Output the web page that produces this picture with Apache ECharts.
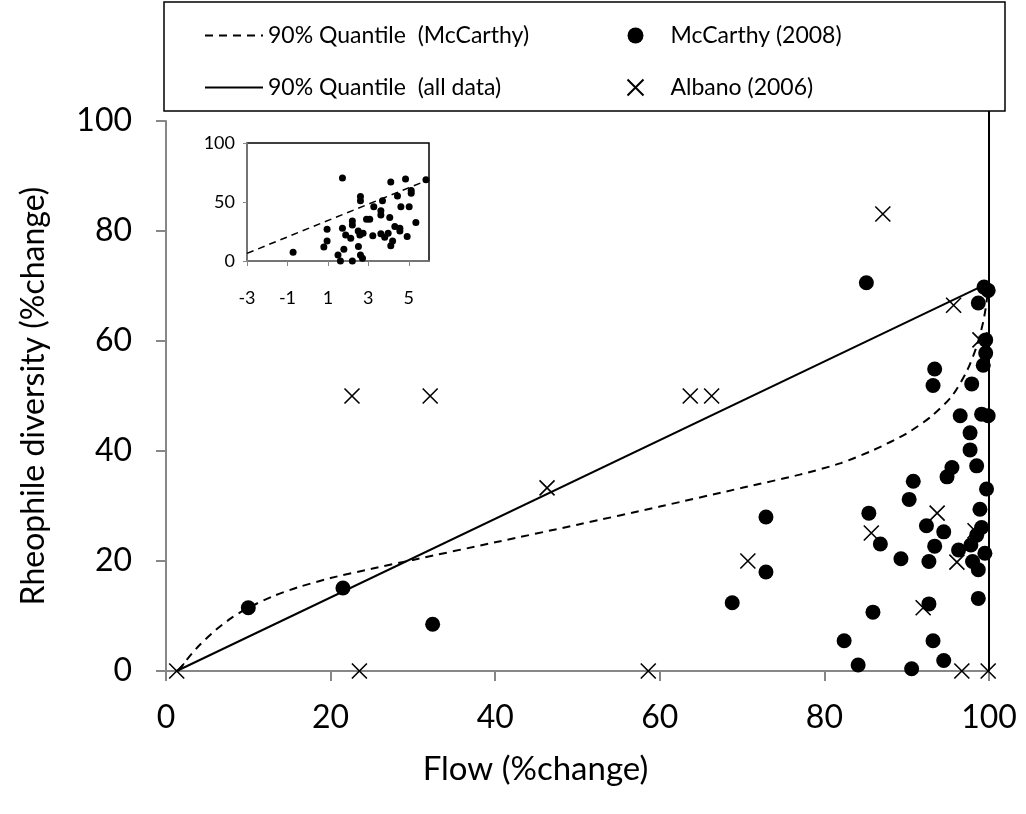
<!DOCTYPE html>
<html>
<head>
<meta charset="utf-8">
<script src="https://cdn.jsdelivr.net/npm/echarts@6/dist/echarts.min.js"></script>
<style>
  html, body { margin: 0; padding: 0; background: #fff; }
  #chart { width: 1026px; height: 814px; }
</style>
</head>
<body>
<div id="chart"></div>
<script>
// ---- Data ----
const xTicks = [0, 20, 40, 60, 80, 100];
const yTicks = [0, 20, 40, 60, 80, 100];

const mccarthyPoints = [
  [10.0, 11.5], [21.5, 15.1], [32.4, 8.5], [68.8, 12.4], [72.9, 28.0], [72.9, 18.0],
  [85.1, 70.6], [99.4, 69.8], [99.9, 69.2], [98.7, 66.9], [99.6, 60.2], [99.6, 57.8],
  [99.3, 55.6], [93.4, 54.9], [93.2, 51.9], [97.9, 52.2], [96.5, 46.4], [99.1, 46.7],
  [99.9, 46.4], [97.7, 43.3], [97.7, 40.2], [95.5, 37.0], [98.5, 37.3], [94.9, 35.3],
  [90.8, 34.5], [90.3, 31.2], [99.7, 33.1], [85.4, 28.7], [98.9, 29.4], [92.4, 26.4],
  [94.5, 25.3], [99.1, 26.1], [98.5, 24.7], [97.8, 22.9], [93.4, 22.7], [96.3, 22.0],
  [86.8, 23.1], [89.3, 20.4], [92.7, 19.9], [98.0, 19.9], [99.5, 21.4], [98.7, 18.4],
  [98.7, 13.2], [85.9, 10.7], [92.7, 12.2], [82.4, 5.5], [93.2, 5.5], [84.1, 1.1],
  [90.6, 0.4], [94.5, 1.9]
];

const albanoPoints = [
  [1.3, 0], [23.5, 0], [58.6, 0], [96.7, 0], [99.9, 0], [22.6, 50], [32.1, 50],
  [46.3, 33.3], [63.7, 50], [66.3, 50], [70.7, 20], [87.1, 83.1], [95.7, 66.5],
  [98.9, 60.2], [93.7, 28.7], [85.7, 25.1], [96.1, 19.8], [92.0, 11.5], [98.3, 25.5]
];

const quantileAll = [[1.3, 0], [98.9, 69.8]];

const quantileMcCarthy = [
  [1.5, 0], [2.5, 2.0], [4, 4.6], [6, 7.4], [8, 9.7], [10, 11.5], [13, 13.6],
  [16, 15.2], [20, 16.9], [25, 18.6], [30, 20.2], [40, 23.4], [50, 26.6],
  [60, 29.9], [70, 33.3], [77, 35.7], [82, 37.8], [86, 40.2], [90, 43.2],
  [93, 46.3], [95.5, 50.0], [97.3, 54.5], [98.5, 59.0], [99.3, 63.5], [99.7, 67.0], [99.9, 70.0]
];

const rightEdge = [[100, 0], [100, 101.8]];

// inset (log scale values)
const insetXTicks = [-3, -1, 1, 3, 5];
const insetYTicks = [0, 50, 100];
const insetPoints = [
  [1.72, 70.3], [4.11, 66.9], [4.84, 69.4], [5.85, 68.8], [2.61, 54.7], [2.61, 51.0],
  [3.70, 51.0], [4.44, 55.0], [5.12, 59.8], [5.12, 57.5], [3.27, 46.0], [4.61, 46.0],
  [5.02, 46.0], [3.62, 42.5], [3.62, 39.0], [4.06, 36.8], [2.91, 35.4], [3.07, 35.4],
  [2.21, 34.0], [2.21, 30.6], [0.96, 27.0], [1.72, 27.8], [5.35, 32.6], [4.31, 29.2],
  [4.56, 27.8], [2.50, 25.5], [2.74, 23.5], [1.88, 22.1], [3.22, 21.5], [3.62, 23.0],
  [3.98, 23.5], [2.58, 22.0], [4.56, 25.5], [2.13, 19.3], [3.81, 20.1], [4.92, 20.7],
  [4.20, 17.0], [0.96, 17.0], [0.80, 11.9], [1.79, 9.9], [2.51, 12.2], [4.11, 13.0],
  [-0.72, 7.4], [1.50, 5.1], [2.61, 5.0], [2.71, 2.3], [1.62, 0], [2.21, 0]
];
const insetQuantile = [[-3, 6.5], [6, 69]];

// ---- Chart ----
const FONT = 'Lato, "Open Sans", sans-serif';
const axisGray = '#878787';
const chart = echarts.init(document.getElementById('chart'), null, { renderer: 'canvas' });

const crossPath = 'path://M0,0L10,10M10,0L0,10';

chart.setOption({
  animation: false,
  backgroundColor: '#ffffff',
  textStyle: { fontFamily: FONT, color: '#000' },
  graphic: [{
    type: 'rect',
    shape: { x: 164, y: 2, width: 841, height: 109 },
    style: { fill: 'none', stroke: '#000', lineWidth: 1.5 },
    z: 0
  }],
  legend: [{
    left: 199, top: 19, orient: 'vertical', itemGap: 29,
    itemWidth: 58, itemHeight: 14,
    itemStyle: { color: 'transparent', borderColor: 'transparent', borderWidth: 0 },
    textStyle: { fontFamily: FONT, fontSize: 23, color: '#000' },
    data: ['90% Quantile  (McCarthy)', '90% Quantile  (all data)']
  }, {
    left: 620, top: 19, orient: 'vertical', itemGap: 29,
    itemWidth: 60, itemHeight: 16,
    textStyle: { fontFamily: FONT, fontSize: 23, color: '#000' },
    data: ['McCarthy (2008)', 'Albano (2006)']
  }],
  grid: [{
    left: 166, right: 37, top: 121, bottom: 143
  }, {
    left: 247, top: 143, width: 182, height: 118,
    show: true, borderColor: '#000', borderWidth: 1.5, backgroundColor: '#fff', z: 5
  }],
  xAxis: [{
    gridIndex: 0, type: 'value', min: 0, max: 100, interval: 20,
    name: 'Flow (%change)', nameLocation: 'middle', nameGap: 82,
    nameTextStyle: { fontFamily: FONT, fontSize: 33, color: '#000', padding: [0, 84, 0, 0] },
    axisLine: { lineStyle: { color: axisGray, width: 2 } },
    axisTick: { show: true, length: 10, lineStyle: { color: axisGray, width: 2 } },
    axisLabel: { fontFamily: FONT, fontSize: 32, color: '#000', margin: 31 },
    splitLine: { show: false }
  }, {
    gridIndex: 1, type: 'value', min: -3, max: 6,
    axisLine: { onZero: false, lineStyle: { color: axisGray, width: 1.5 } },
    axisTick: { show: true, length: 5, customValues: insetXTicks, lineStyle: { color: axisGray } },
    axisLabel: { fontFamily: FONT, fontSize: 18, color: '#000', margin: 28, customValues: insetXTicks },
    splitLine: { show: false }, z: 6
  }],
  yAxis: [{
    gridIndex: 0, type: 'value', min: 0, max: 100, interval: 20,
    name: 'Rheophile diversity (%change)', nameLocation: 'middle', nameGap: 116,
    nameTextStyle: { fontFamily: FONT, fontSize: 32, color: '#000' },
    axisLine: { show: true, lineStyle: { color: axisGray, width: 2 } },
    axisTick: { show: true, length: 10, lineStyle: { color: axisGray, width: 2 } },
    axisLabel: { fontFamily: FONT, fontSize: 32, color: '#000', margin: 34 },
    splitLine: { show: false }
  }, {
    gridIndex: 1, type: 'value', min: 0, max: 100, interval: 50,
    axisLine: { show: true, onZero: false, lineStyle: { color: axisGray, width: 1.5 } },
    axisTick: { show: true, length: 4, lineStyle: { color: axisGray } },
    axisLabel: { fontFamily: FONT, fontSize: 18, color: '#000', margin: 12 },
    splitLine: { show: false }, z: 6
  }],
  series: [{
    name: '90% Quantile  (McCarthy)', type: 'line', xAxisIndex: 0, yAxisIndex: 0,
    data: quantileMcCarthy, showSymbol: false, symbol: 'none', smooth: 0.25,
    lineStyle: { color: '#000', width: 2, type: [8, 6] }, itemStyle: { color: '#000' }, z: 3
  }, {
    name: '90% Quantile  (all data)', type: 'line', xAxisIndex: 0, yAxisIndex: 0,
    data: quantileAll, showSymbol: false, symbol: 'none',
    lineStyle: { color: '#000', width: 2 }, itemStyle: { color: '#000' }, z: 3
  }, {
    name: 'edge', type: 'line', xAxisIndex: 0, yAxisIndex: 0,
    data: rightEdge, showSymbol: false, symbol: 'none', clip: false,
    lineStyle: { color: '#000', width: 2 }, z: 2
  }, {
    name: 'McCarthy (2008)', type: 'scatter', xAxisIndex: 0, yAxisIndex: 0,
    data: mccarthyPoints, symbol: 'circle', symbolSize: 15,
    itemStyle: { color: '#000', opacity: 1 }, z: 4
  }, {
    name: 'Albano (2006)', type: 'scatter', xAxisIndex: 0, yAxisIndex: 0,
    data: albanoPoints, symbol: crossPath, symbolSize: 15,
    itemStyle: { color: 'none', borderColor: '#000', borderWidth: 1.6, opacity: 1 }, z: 4
  }, {
    name: 'inset quantile', type: 'line', xAxisIndex: 1, yAxisIndex: 1,
    data: insetQuantile, showSymbol: false, symbol: 'none',
    lineStyle: { color: '#000', width: 1.5, type: [7, 5] }, z: 7
  }, {
    name: 'inset points', type: 'scatter', xAxisIndex: 1, yAxisIndex: 1,
    data: insetPoints, symbol: 'circle', symbolSize: 7,
    itemStyle: { color: '#000', opacity: 1 }, z: 7
  }]
});
</script>
</body>
</html>
